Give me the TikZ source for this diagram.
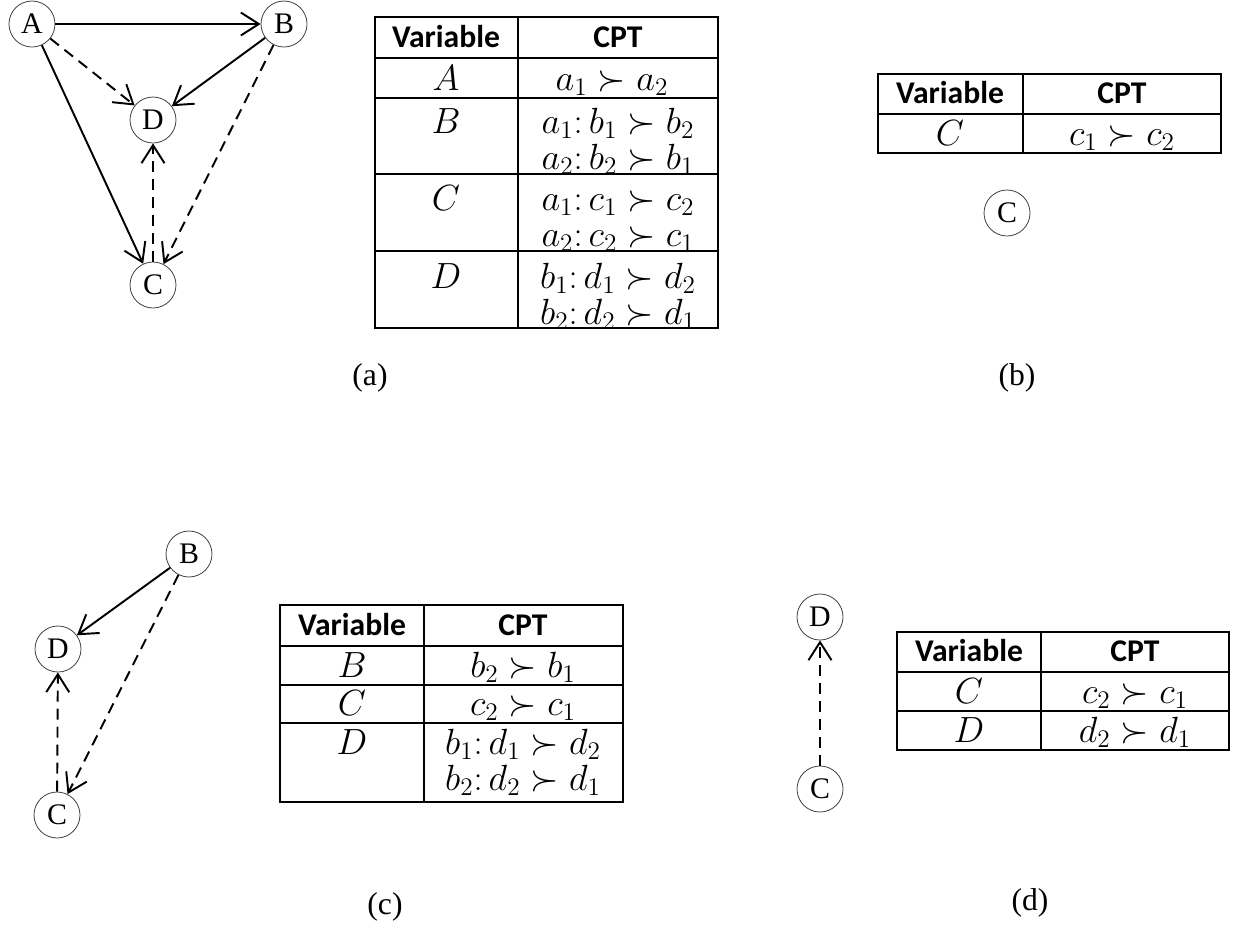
\documentclass[tikz,border=0pt]{standalone}
\usepackage{fontspec}
\setmainfont{Liberation Serif}
\newfontfamily\tabfont{Carlito}
\usetikzlibrary{arrows.meta}

\begin{document}
\begin{tikzpicture}[x=0.02cm,y=-0.02cm,
   var/.style={circle,draw=black!75,line width=0.45pt,minimum size=0.92cm,inner sep=0pt,font=\fontsize{17}{19}\selectfont},
   link/.style={line width=1.1pt,-{Straight Barb[length=3.6mm,width=4.6mm,line width=1.1pt]}},
   dlink/.style={link,dash pattern=on 0.22cm off 0.14cm},
   rule/.style={line width=0.9pt},
   hd/.style={anchor=base,inner sep=1pt,font=\tabfont\bfseries\fontsize{18}{22}\selectfont},
   entry/.style={anchor=base,inner sep=0.5pt,font=\fontsize{19.5}{23}\selectfont},
   sublabel/.style={font=\fontsize{18}{20}\selectfont}]
   \useasboundingbox (0,0) rectangle (1243,924);

   % (a)
   \node[var] (a-A) at (32,24) {A};
   \node[var] (a-B) at (284,24) {B};
   \node[var] (a-D) at (153,120) {D};
   \node[var] (a-C) at (153,285) {C};
   \draw[link] (a-A) -- (a-B);
   \draw[link] (a-A) -- (a-C);
   \draw[link] (a-B) -- (a-D);
   \draw[dlink] (a-A) -- (a-D);
   \draw[dlink] (a-B) -- (a-C);
   \draw[dlink] (a-C) -- (a-D);

   \draw[rule] (375,17) rectangle (718,328);
   \draw[rule] (518,17) -- (518,328);
   \foreach \y in {58,98,174,251} \draw[rule] (375,\y) -- (718,\y);
   \node[hd] (ta-var) at (446,47) {Variable};
   \node[hd] (ta-cpt) at (618,47) {CPT};
   \node[entry] (ta-A) at (446,90) {$A$};
   \node[entry] (ta-cA) at (612,90) {$a_1 \succ a_2$};
   \node[entry] (ta-B) at (446,133) {$B$};
   \node[entry] (ta-cB1) at (618,133) {$a_1{:}\,b_1 \succ b_2$};
   \node[entry] (ta-cB2) at (618,169) {$a_2{:}\,b_2 \succ b_1$};
   \node[entry] (ta-C) at (446,210) {$C$};
   \node[entry] (ta-cC1) at (618,210) {$a_1{:}\,c_1 \succ c_2$};
   \node[entry] (ta-cC2) at (618,246) {$a_2{:}\,c_2 \succ c_1$};
   \node[entry] (ta-D) at (446,288) {$D$};
   \node[entry] (ta-cD1) at (618,288) {$b_1{:}\,d_1 \succ d_2$};
   \node[entry] (ta-cD2) at (618,324) {$b_2{:}\,d_2 \succ d_1$};
   \node[sublabel] (lab-a) at (370,378) {(a)};

   % (b)
   \draw[rule] (878,74) rectangle (1221,153);
   \draw[rule] (1023,74) -- (1023,153);
   \draw[rule] (878,114) -- (1221,114);
   \node[hd] (tb-var) at (950,103) {Variable};
   \node[hd] (tb-cpt) at (1122,103) {CPT};
   \node[entry] (tb-C) at (950,145) {$C$};
   \node[entry] (tb-cC) at (1122,145) {$c_1 \succ c_2$};
   \node[var] (b-C) at (1007,213) {C};
   \node[sublabel] (lab-b) at (1017,378) {(b)};

   % (c)
   \node[var] (c-B) at (189,554) {B};
   \node[var] (c-D) at (58,649) {D};
   \node[var] (c-C) at (57,815) {C};
   \draw[link] (c-B) -- (c-D);
   \draw[dlink] (c-B) -- (c-C);
   \draw[dlink] (c-C) -- (c-D);

   \draw[rule] (280,605) rectangle (623,802);
   \draw[rule] (424,605) -- (424,802);
   \foreach \y in {646,685,723} \draw[rule] (280,\y) -- (623,\y);
   \node[hd] (tc-var) at (352,635) {Variable};
   \node[hd] (tc-cpt) at (523,635) {CPT};
   \node[entry] (tc-B) at (352,677) {$B$};
   \node[entry] (tc-cB) at (523,677) {$b_2 \succ b_1$};
   \node[entry] (tc-C) at (352,715) {$C$};
   \node[entry] (tc-cC) at (523,715) {$c_2 \succ c_1$};
   \node[entry] (tc-D) at (352,754) {$D$};
   \node[entry] (tc-cD1) at (523,754) {$b_1{:}\,d_1 \succ d_2$};
   \node[entry] (tc-cD2) at (523,790) {$b_2{:}\,d_2 \succ d_1$};
   \node[sublabel] (lab-c) at (385,907) {(c)};

   % (d)
   \node[var] (d-D) at (820,617) {D};
   \node[var] (d-C) at (820,789) {C};
   \draw[dlink] (d-C) -- (d-D);

   \draw[rule] (897,632) rectangle (1229,750);
   \draw[rule] (1041,632) -- (1041,750);
   \foreach \y in {672,711} \draw[rule] (897,\y) -- (1229,\y);
   \node[hd] (td-var) at (969,661) {Variable};
   \node[hd] (td-cpt) at (1135,661) {CPT};
   \node[entry] (td-C) at (969,703) {$C$};
   \node[entry] (td-cC) at (1135,703) {$c_2 \succ c_1$};
   \node[entry] (td-D) at (969,742) {$D$};
   \node[entry] (td-cD) at (1135,742) {$d_2 \succ d_1$};
   \node[sublabel] (lab-d) at (1030,903) {(d)};
\end{tikzpicture}
\end{document}
